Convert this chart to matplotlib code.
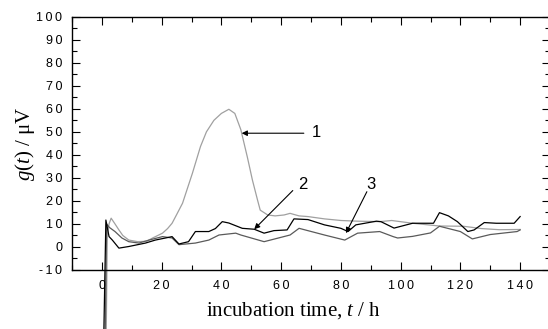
import matplotlib
matplotlib.use("Agg")
import matplotlib.pyplot as plt
from matplotlib.ticker import MultipleLocator, FuncFormatter

plt.rcParams['mathtext.fontset'] = 'custom'
plt.rcParams['mathtext.rm'] = 'Liberation Serif'
plt.rcParams['mathtext.it'] = 'Liberation Serif:italic'

# curve 1 (light grey)
t1 = [1.2, 1.8, 2.4, 3.1, 4.4, 5.7, 7, 9, 12, 15, 17, 20.3, 22, 23.5, 25, 27, 30.3,
      33, 35, 37.5, 40, 42.5, 44.5, 46.5, 48.7, 50.4, 52.1, 53, 55.5, 58, 61, 63, 66,
      69, 74.5, 80, 85.6, 93, 97, 104, 113, 121, 127, 133, 140]
g1 = [-70, 5, 10, 12.5, 10, 7.4, 5, 3, 2.3, 2.5, 3.9, 6, 8, 10.3, 14, 19, 32,
      43.6, 50, 55, 58, 59.8, 58, 51, 39, 29, 20.4, 16, 13.9, 13.5, 13.9, 14.6, 13.5,
      13.2, 12.2, 11.5, 11.2, 11, 11.5, 10.3, 9.1, 9, 8, 7.5, 7.6]

# curve 2 (black)
t2 = [0.2, 1.34, 2.4, 3.5, 5.7, 9, 14.6, 17.9, 21.3, 23.5, 25.8, 29, 31.3, 35.8, 38,
      40.3, 42.5, 47, 51, 54.3, 57.6, 62, 64.3, 69, 74.5, 80, 82.4, 85, 91.9, 93.4,
      97.8, 104, 111, 113, 116, 119, 122.5, 124.6, 128, 132, 138, 140]
g2 = [-70, 11.7, 4.5, 3.0, -0.5, 0.2, 1.7, 3, 3.9, 4.5, 1.3, 2.3, 6.7, 6.7, 8,
      11, 10.4, 8.1, 7.7, 6, 7.1, 7.4, 12.2, 11.9, 9.6, 8.1, 6.7, 9.6, 11.2, 11,
      8.2, 10.3, 10.3, 14.9, 13.5, 11, 6.7, 7.4, 10.6, 10.3, 10.3, 13.2]

# curve 3 (dark grey)
t3 = [0.8, 1.6, 2.5, 4.4, 6.7, 9, 12.4, 15.8, 20.3, 23.5, 25.8, 31.3, 35.8, 39.2,
      44.8, 46.5, 54.3, 63, 66, 74.5, 81.3, 85.6, 93, 97.5, 99, 104, 110, 113, 120,
      124, 130, 139, 140]
g3 = [-70, 10, 8.5, 6.7, 3.9, 2.3, 1.7, 3, 4.5, 3.9, 1, 1.7, 3, 5.2,
      6, 5.2, 2.3, 5.2, 8.1, 5.2, 3, 6, 6.7, 4.5, 3.9, 4.6, 6.1, 9, 6.7,
      3.5, 5.4, 6.7, 7.4]

fig = plt.figure(figsize=(5.48, 3.29), dpi=100)
ax = fig.add_axes([72/548, 1-270/329, 478/548, 253.3/329])

ax.plot(t1, g1, color='#a0a0a0', lw=0.9, clip_on=False)
ax.plot(t3, g3, color='#5a5a5a', lw=0.9, clip_on=False)
ax.plot(t2, g2, color='black', lw=0.9, clip_on=False)

ax.set_xlim(-10, 150)
ax.set_ylim(-10, 100)
ax.xaxis.set_major_locator(MultipleLocator(20))
ax.xaxis.set_minor_locator(MultipleLocator(10))
ax.yaxis.set_major_locator(MultipleLocator(10))
ax.yaxis.set_minor_locator(MultipleLocator(5))

spaced = FuncFormatter(lambda v, p: '\u2009'.join(str(int(round(v)))))
ax.xaxis.set_major_formatter(spaced)
ax.yaxis.set_major_formatter(spaced)
ax.tick_params(which='both', direction='in', top=True, right=True, width=0.8)
ax.tick_params(which='major', length=6, labelsize=9, pad=7)
ax.tick_params(which='minor', length=3.5)
for lab in ax.get_xticklabels() + ax.get_yticklabels():
    lab.set_family(['Liberation Sans', 'DejaVu Sans'])
for s in ax.spines.values():
    s.set_linewidth(1.0)

ax.set_xlabel('incubation time, $t$ / h', family='Liberation Serif', fontsize=15, va='center')
ax.xaxis.set_label_coords(0.464, -0.162)
ax.set_ylabel('$g$($t$) / μV', family='Liberation Serif', fontsize=15, va='center', ha='center')
ax.yaxis.set_label_coords(-0.098, 0.5)

arrow = dict(arrowstyle='-|>', color='black', lw=0.8, mutation_scale=8, shrinkA=0, shrinkB=0)
ax.annotate('', xy=(46.8, 49.4), xytext=(67.6, 49.4), arrowprops=arrow)
ax.annotate('', xy=(51, 7.7), xytext=(63.9, 24.5), arrowprops=arrow)
ax.annotate('', xy=(81.7, 6), xytext=(88.7, 24), arrowprops=arrow)
ax.text(71.8, 49.8, '1', fontsize=12, family='Liberation Sans', ha='center', va='center')
ax.text(67.3, 27, '2', fontsize=12, family='Liberation Sans', ha='center', va='center')
ax.text(90, 27, '3', fontsize=12, family='Liberation Sans', ha='center', va='center')

fig.savefig('out.png', dpi=100)
